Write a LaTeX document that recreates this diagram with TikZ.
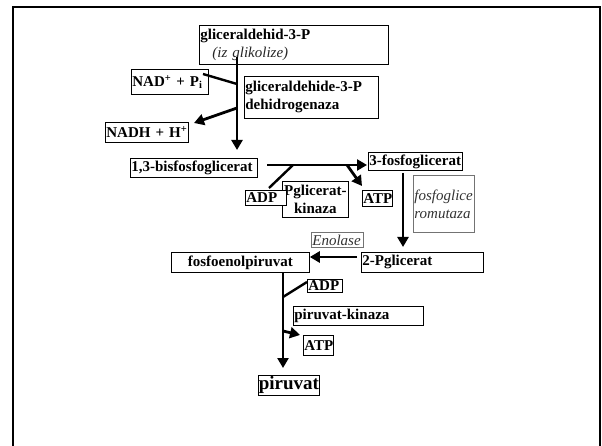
\documentclass[tikz,border=0pt]{standalone}
\usepackage{fontspec}
\setmainfont{Liberation Serif}
\usetikzlibrary{shapes,arrows.meta,positioning}
\tikzstyle{box} = [draw, fill=white, line width=0.8pt, inner sep=1pt, anchor=north west, align=left, font=\fontsize{15}{18}\selectfont\bfseries]
\tikzstyle{gbox} = [box, draw=black!55, text=black!80, font=\fontsize{15}{18}\selectfont\itshape]
\tikzstyle{line} = [draw, line width=2.4pt]
\tikzstyle{arr} = [draw, line width=2.8pt, -{Triangle[length=10pt,width=11pt]}]

\begin{document}
\begin{tikzpicture}[x=1pt, y=-1pt]
				\useasboundingbox (0,0) rectangle (602,446);
				\draw [line width=2.3pt] (13,447) -- (13,7) -- (600,7) -- (600,447);

				\node [box, text width=187pt, minimum height=39pt] (gap) at (199,25) {gliceraldehid-3-P\\\hspace*{12pt}\textcolor{black!85}{\mdseries\itshape (iz glikolize)}};
				\node [box, text width=75pt, minimum height=25pt] (nadpi) at (131,69) {NAD\textsuperscript{+} + P\textsubscript{i}};
				\node [box, text width=132pt, minimum height=42pt] (gapdh) at (244,76) {gliceraldehide-3-P\\dehidrogenaza};
				\node [box, text width=81pt, minimum height=20pt] (nadh) at (105,122) {NADH + H\textsuperscript{+}};
				\node [box, text width=125pt, minimum height=19pt] (bpg) at (130,158) {1,3-bisfosfoglicerat};
				\node [box, text width=92pt, minimum height=18pt] (pg3) at (368,152) {3-fosfoglicerat};
				\node [box, align=center, text width=64pt, minimum height=36pt] (pgk) at (282,181) {Pglicerat-\\kinaza};
				\node [box, text width=39pt, minimum height=15pt] (adp1) at (245,190) {ADP};
				\node [box, text width=28pt, minimum height=16pt] (atp1) at (362,190) {ATP};
				\node [gbox, text width=59pt, minimum height=57pt, anchor=north west] (pgm) at (413,175) {fosfoglice\\romutaza\\[14pt]};
				\node [gbox, text width=50pt, minimum height=15pt] (eno) at (311,232) {Enolase};
				\node [box, align=center, text width=136pt, minimum height=20pt] (pep) at (171,252) {fosfoenolpiruvat};
				\node [box, text width=120pt, minimum height=20pt] (pg2) at (361,252) {2-Pglicerat};
				\node [box, text width=33pt, minimum height=13pt] (adp2) at (307,279) {ADP};
				\node [box, text width=128pt, minimum height=19pt] (pk) at (293,306) {piruvat-kinaza};
				\node [box, text width=28pt, minimum height=20pt] (atp2) at (303,335) {ATP};
				\node [box, inner sep=0.5pt, minimum height=20pt, font=\fontsize{19}{20}\selectfont\bfseries] (pyr) at (258,375) {piruvat};

				\coordinate (c1) at (237,57);
				\coordinate (c2) at (237,150);
				\coordinate (c3) at (203,74);
				\coordinate (c4) at (237,84);
				\coordinate (c5) at (237,108);
				\coordinate (c6) at (194,123);
				\coordinate (c7) at (267,165);
				\coordinate (c8) at (367,165);
				\coordinate (c9) at (293,165);
				\coordinate (c10) at (269,188);
				\coordinate (c11) at (347,165);
				\coordinate (c12) at (362,186);
				\coordinate (c13) at (403,173);
				\coordinate (c14) at (403,247);
				\coordinate (c15) at (357,257);
				\coordinate (c16) at (283,272);
				\coordinate (c17) at (283,368);
				\coordinate (c18) at (307,282);
				\coordinate (c19) at (283,297);
				\coordinate (c20) at (283,331);
				\coordinate (c21) at (300,335);

				\path [arr] (c1) -- (c2);
				\path [line] (c3) -- (c4);
				\path [arr] (c5) -- (c6);
				\path [arr] (c7) -- (c8);
				\path [line] (c9) -- (c10);
				\path [arr] (c11) -- (c12);
				\path [arr] (c13) -- (c14);
				\path [arr] (c15) -- (pep.east |- c15);
				\path [arr] (pep.south -| c16) -- (c17);
				\path [line] (c18) -- (c19);
				\path [arr] (c20) -- (c21);
			\end{tikzpicture}
\end{document}
